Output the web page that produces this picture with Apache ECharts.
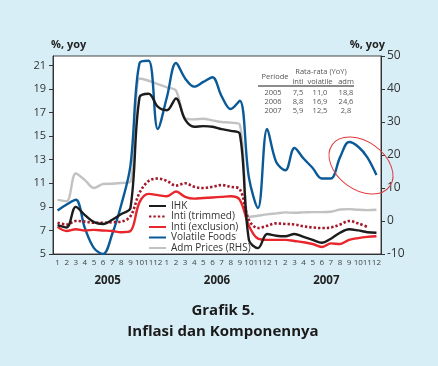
<!DOCTYPE html>
<html>
<head>
<meta charset="utf-8">
<script src="https://cdn.jsdelivr.net/npm/echarts@6/dist/echarts.min.js"></script>
<style>
  html, body { margin: 0; padding: 0; background: #d7eef6; }
  #chart { width: 438px; height: 366px; }
</style>
</head>
<body>
<div id="chart"></div>
<script>
// bulan 1..12 untuk 2005-2007
const monthLabels = ['1','2','3','4','5','6','7','8','9','10','11','12',
                     '1','2','3','4','5','6','7','8','9','10','11','12',
                     '1','2','3','4','5','6','7','8','9','10','11','12'];
const years = ['2005', '2006', '2007'];

// % yoy, sumbu kiri
const ihk       = [7.45, 7.25, 9.0, 8.3, 7.7, 7.55, 7.9, 8.4, 8.9, 18.3, 18.6, 17.5,
                   17.2, 18.2, 16.4, 15.8, 15.85, 15.8, 15.6, 15.45, 15.2, 6.2, 5.5, 6.7,
                   6.55, 6.5, 6.7, 6.45, 6.2, 5.95, 6.3, 6.8, 7.1, 7.0, 6.85, 6.8];
const intiTrim  = [7.65, 7.5, 7.8, 7.75, 7.65, 7.65, 7.7, 7.75, 8.2, 10.2, 11.2, 11.4,
                   11.2, 10.8, 11.0, 10.7, 10.6, 10.7, 10.85, 10.7, 10.5, 7.9, 7.2, 7.4,
                   7.6, 7.55, 7.5, 7.35, 7.25, 7.2, 7.25, 7.5, 7.8, 7.6, 7.3, null];
const intiExcl  = [7.3, 6.95, 7.1, 7.0, 7.05, 7.0, 6.95, 6.85, 6.95, 9.4, 10.1, 10.0,
                   9.9, 10.3, 9.85, 9.7, 9.75, 9.8, 9.85, 9.9, 9.6, 7.4, 6.3, 6.2,
                   6.2, 6.2, 6.1, 6.0, 5.85, 5.6, 5.9, 5.85, 6.2, 6.35, 6.45, 6.5];
const volatile  = [8.7, 9.2, 9.6, 7.2, 5.5, 5.0, 6.7, 9.2, 12.5, 21.2, 21.4, 15.6,
                   18.3, 21.2, 19.9, 19.2, 19.6, 20.0, 18.4, 17.3, 18.0, 11.5, 8.9, 15.6,
                   12.8, 12.1, 14.0, 13.1, 12.3, 11.4, 11.4, 13.2, 14.5, 14.1, 13.2, 11.7];
// % yoy, sumbu kanan
const admPrices = [6.4, 6.0, 14.4, 12.4, 10.0, 11.2, 11.3, 11.5, 11.9, 43.2, 42.5, 41.5,
                   40.5, 39.5, 31.2, 30.8, 31.0, 30.5, 30.0, 29.8, 29.2, 1.2, 1.6, 2.0,
                   2.3, 2.6, 2.5, 2.6, 2.7, 2.7, 2.8, 3.5, 3.6, 3.4, 3.3, 3.4];

const leftTicks = [5, 7, 9, 11, 13, 15, 17, 19, 21];

// tabel rata-rata
const tableHead = ['inti', 'volatile', 'adm'];
const tableRows = [
  ['2005', '7,5', '11,0', '18,8'],
  ['2006', '8,8', '16,9', '24,6'],
  ['2007', '5,9', '12,5', '2,8']
];

const FONT = '"Open Sans", "Noto Sans", sans-serif';

const chart = echarts.init(document.getElementById('chart'));

function lineSeries(name, data, color, yIdx, extra) {
  return Object.assign({
    name: name,
    type: 'line',
    data: data,
    yAxisIndex: yIdx,
    smooth: 0.35,
    symbol: 'none',
    lineStyle: { color: color, width: 2.4 },
    itemStyle: { color: color }
  }, extra || {});
}

// teks tabel
const tableText = [];
const colX = [273, 298, 320, 346];
function tt(x, y, s) {
  return { type: 'text', x: x, y: y, z: 50,
    style: { text: s, font: '7.5px ' + FONT, fill: '#555', align: 'center', verticalAlign: 'middle' } };
}
tableText.push(tt(275, 76.5, 'Periode'));
tableText.push(tt(321, 72, 'Rata-rata (YoY)'));
tableHead.forEach((h, i) => tableText.push(tt(colX[i + 1], 81.5, h)));
tableText.push({ type: 'line', z: 50, shape: { x1: 258, y1: 86, x2: 354, y2: 86 }, style: { stroke: '#666', lineWidth: 1.5 } });
tableRows.forEach((row, r) => {
  row.forEach((cell, c) => tableText.push(tt(colX[c], 92.5 + r * 9, cell)));
});

const option = {
  backgroundColor: '#d7eef6',
  animation: false,
  textStyle: { fontFamily: FONT },
  title: {
    text: 'Grafik 5.\nInflasi dan Komponennya',
    left: 218,
    top: 295,
    textAlign: 'center',
    textStyle: { fontSize: 15, fontWeight: 'bold', color: '#1a1a1a', lineHeight: 21, align: 'center' }
  },
  grid: {
    left: 53, right: 57, top: 56, bottom: 112,
    show: true, backgroundColor: '#fff', borderColor: '#444', borderWidth: 1
  },
  legend: {
    orient: 'vertical',
    left: 143, top: 196,
    itemWidth: 17, itemHeight: 8, itemGap: 0.5,
    itemStyle: { opacity: 0 },
    textStyle: { fontSize: 10, color: '#333' },
    data: ['IHK', 'Inti (trimmed)', 'Inti (exclusion)', 'Volatile Foods', 'Adm Prices (RHS)']
  },
  xAxis: [{
    type: 'category',
    data: monthLabels,
    boundaryGap: true,
    axisLine: { onZero: false, lineStyle: { color: '#333', width: 1 } },
    axisTick: { length: 4, lineStyle: { color: '#333' } },
    axisLabel: { interval: 0, fontSize: 8, color: '#444', margin: 5 }
  }, {
    type: 'category',
    data: years,
    position: 'bottom',
    boundaryGap: true,
    axisLine: { show: false, onZero: false },
    axisTick: { length: 8, lineStyle: { color: '#333' } },
    axisLabel: { fontSize: 11.5, fontWeight: 'bold', color: '#222', margin: 21 }
  }],
  yAxis: [{
    type: 'value',
    min: 5, max: 21.8,
    name: '%, yoy', nameLocation: 'end', nameGap: 6,
    nameTextStyle: { fontSize: 11, fontWeight: 'bold', color: '#222', align: 'left', padding: [0, 0, 0, -2] },
    splitLine: { show: false },
    axisLine: { show: true, onZero: false, lineStyle: { color: '#333' } },
    axisTick: { show: true, length: 4, customValues: leftTicks, lineStyle: { color: '#333' } },
    axisLabel: { customValues: leftTicks, fontSize: 11, color: '#333', margin: 7 }
  }, {
    type: 'value',
    min: -10, max: 50, interval: 10,
    position: 'right',
    name: '%, yoy', nameLocation: 'end', nameGap: 6,
    nameTextStyle: { fontSize: 11, fontWeight: 'bold', color: '#222', align: 'right', padding: [0, -4, 0, 0] },
    splitLine: { show: false },
    axisLine: { show: true, onZero: false, lineStyle: { color: '#333' } },
    axisTick: { show: true, length: 4, lineStyle: { color: '#333' } },
    axisLabel: { fontSize: 12, color: '#333', margin: 6 }
  }],
  series: [
    lineSeries('Adm Prices (RHS)', admPrices, '#c2c2c2', 1, { z: 2 }),
    lineSeries('Volatile Foods', volatile, '#0b5a98', 0, { z: 3 }),
    lineSeries('Inti (exclusion)', intiExcl, '#e8262c', 0, { z: 4 }),
    lineSeries('Inti (trimmed)', intiTrim, '#a3192a', 0, {
      z: 5, lineStyle: { color: '#a3192a', width: 2.6, type: [2.4, 2], cap: 'butt' }
    }),
    lineSeries('IHK', ihk, '#1c1c1c', 0, { z: 6 })
  ],
  graphic: tableText.concat([{
    type: 'ellipse',
    x: 361, y: 165.5,
    rotation: -0.63,
    shape: { cx: 0, cy: 0, rx: 35.5, ry: 24 },
    style: { fill: 'none', stroke: '#e03a3c', lineWidth: 1 },
    z: 100
  }])
};

chart.setOption(option);
</script>
</body>
</html>
